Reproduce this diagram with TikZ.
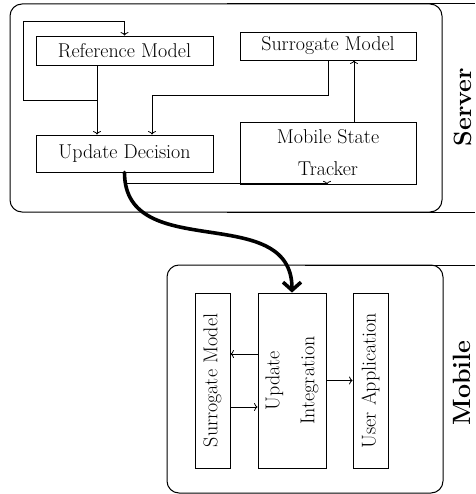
\documentclass[tikz,border=0pt]{standalone}
\usepackage{graphicx}
\usetikzlibrary{calc,arrows.meta}
\begin{document}
\begin{tikzpicture}[x=1pt,y=1pt,
  box/.style={draw, line width=0.8pt, inner sep=0pt, font=\fontsize{20}{24}\selectfont, align=center},
  frame/.style={draw, line width=1pt, rounded corners=12pt},
  lbl/.style={font=\fontsize{25}{29}\selectfont\bfseries, rotate=90, inner sep=0pt},
  conn/.style={line width=0.8pt, -{To[length=3.5pt,width=8pt]}},
  bigconn/.style={line width=3.6pt, -{Straight Barb[length=8pt,width=18pt]}, line cap=round}
]
\useasboundingbox (0,0) rectangle (475,-494);
% frames
\draw[frame] (10,-4) rectangle (442,-212);
\draw[frame] (167,-265) rectangle (443,-493);
\draw[line width=1pt] (227,-4) -- (475,-4);
\draw[line width=1pt] (227,-212) -- (475,-212);
\draw[line width=1pt] (305,-265) -- (475,-265);
\node[lbl] (srv) at (463,-107) {Server};
\node[lbl] (mob) at (462,-383) {Mobile};
% server nodes
\node[box, minimum width=177pt, minimum height=29pt] (RM) at (124.5,-50.5) {Reference Model};
\node[box, minimum width=177pt, minimum height=37pt] (UD) at (124.5,-153.5) {Update Decision};
\node[box, minimum width=176pt, minimum height=28pt] (SMs) at (328,-46) {Surrogate Model};
\node[box, minimum width=176pt, minimum height=62pt] (MST) at (328,-153) {Mobile State\\[8pt]Tracker};
% mobile nodes
\node[box, minimum width=35pt, minimum height=175pt] (SMm) at (212.5,-380.5) {\rotatebox{90}{Surrogate Model}};
\node[box, minimum width=68pt, minimum height=175pt] (UI) at (292,-380.5) {\rotatebox{90}{\begin{tabular}{@{}c@{}}Update\\[11pt]Integration\end{tabular}}};
\node[box, minimum width=35pt, minimum height=175pt] (UA) at (370.5,-380.5) {\rotatebox{90}{User Application}};
% helper coordinates
\coordinate (xa) at (97,0);
\coordinate (j1) at (97,-100);
\coordinate (l1) at (23,-21);
\coordinate (k2) at (152,-95);
\coordinate (xb) at (354,0);
\coordinate (xc) at (327,0);
\coordinate (m1) at (0,-354);
\coordinate (m2) at (0,-407);
% server connectors
\draw[conn] (RM.south -| xa) -- (UD.north -| xa);
\draw[conn] (j1) -| (l1) -| (RM.north);
\draw[conn] (SMs.south) |- (k2) -- (UD.north -| k2);
\draw[conn] (MST.north -| xb) -- (SMs.south -| xb);
\draw[conn] (UD.south) |- ($(MST.south -| xc)+(0,0.5)$) -- (MST.south -| xc);
% big connector
\draw[bigconn] (UD.south) .. controls (124.5,-265) and (292,-200) .. (UI.north);
% mobile connectors
\draw[conn] (UI.west |- m1) -- (SMm.east |- m1);
\draw[conn] (SMm.east |- m2) -- (UI.west |- m2);
\draw[conn] (UI.east) -- (UA.west);
\end{tikzpicture}
\end{document}
